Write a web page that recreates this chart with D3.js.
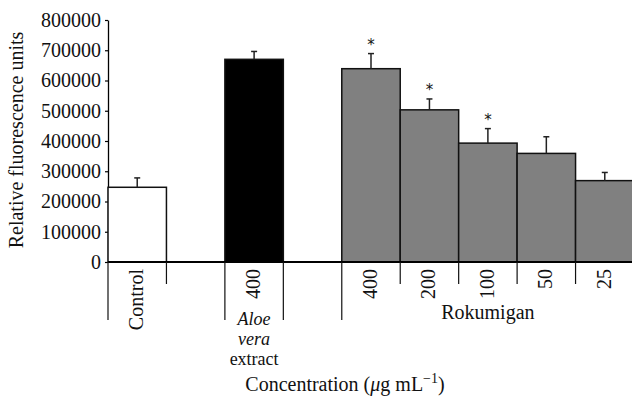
<!DOCTYPE html>
<html>
<head>
<meta charset="utf-8">
<script src="https://cdn.jsdelivr.net/npm/d3@7"></script>
<style>
  body { margin: 0; background: #fff; }
  svg text { font-family: "Liberation Serif", "DejaVu Serif", serif; fill: #111; }
</style>
</head>
<body>
<svg width="632" height="400"></svg>
<script>
// slots along the x axis (two empty gaps between groups)
const slots = ["control", "gap1", "aloe400", "gap2", "rk400", "rk200", "rk100", "rk50", "rk25"];
const tickLabels = ["Control", "", "400", "", "400", "200", "100", "50", "25"];
const groups = ["control", "", "aloe", "", "rokumigan", "rokumigan", "rokumigan", "rokumigan", "rokumigan"];
const values = [247000, null, 670000, null, 639000, 503000, 393000, 359000, 269000];
const errors = [31000, null, 26000, null, 50000, 36000, 48000, 55000, 27000];
const significant = [false, false, false, false, true, true, true, false, false];
const yTicks = [0, 100000, 200000, 300000, 400000, 500000, 600000, 700000, 800000];

const fills = { control: "#ffffff", aloe: "#000000", rokumigan: "#808080" };
const fontSize = "20px";

let margin = { top: 20, left: 108 };
let svg = d3.select("svg");

let x = d3.scaleBand()
    .domain(slots)
    .range([margin.left, 634])
    .padding(0);

let y = d3.scaleLinear()
    .domain([0, 800000])
    .range([262, margin.top]);

// y axis
let yAxis = svg.append("g")
    .attr("transform", `translate(${margin.left}, 0)`)
    .call(d3.axisLeft(y).tickValues(yTicks).tickFormat(d3.format("d")).tickSize(3).tickSizeOuter(0));
yAxis.attr("font-family", "Liberation Serif");
yAxis.select(".domain").attr("stroke", "#000").attr("stroke-width", 1.3);
yAxis.selectAll(".tick line").attr("stroke", "#000").attr("stroke-width", 1.2);
yAxis.selectAll(".tick text")
    .attr("x", -7)
    .style("font-family", "Liberation Serif")
    .style("font-size", fontSize)
    .attr("fill", "#111");

svg.append("text")
    .attr("transform", `translate(23, 140) rotate(-90)`)
    .attr("text-anchor", "middle")
    .style("font-size", fontSize)
    .text("Relative fluorescence units");

// bars
let data = slots.map((s, i) => ({ slot: s, value: values[i], err: errors[i], group: groups[i], star: significant[i] }))
    .filter(d => d.value !== null);

svg.selectAll("rect.bar")
    .data(data)
    .enter().append("rect")
    .attr("class", "bar")
    .attr("x", d => x(d.slot))
    .attr("y", d => y(d.value))
    .attr("width", x.bandwidth())
    .attr("height", d => y(0) - y(d.value))
    .attr("fill", d => fills[d.group])
    .attr("stroke", "#111")
    .attr("stroke-width", 1.5);

// error bars
let cx = d => x(d.slot) + x.bandwidth() / 2;
svg.selectAll("line.err")
    .data(data)
    .enter().append("line")
    .attr("x1", cx).attr("x2", cx)
    .attr("y1", d => y(d.value))
    .attr("y2", d => y(d.value + d.err))
    .attr("stroke", "#222").attr("stroke-width", 1.5);
svg.selectAll("line.cap")
    .data(data)
    .enter().append("line")
    .attr("x1", d => cx(d) - 3).attr("x2", d => cx(d) + 3)
    .attr("y1", d => y(d.value + d.err))
    .attr("y2", d => y(d.value + d.err))
    .attr("stroke", "#222").attr("stroke-width", 1.5);

svg.selectAll("text.star")
    .data(data.filter(d => d.star))
    .enter().append("text")
    .attr("x", cx)
    .attr("y", d => y(d.value + d.err) - 4)
    .attr("text-anchor", "middle")
    .style("font-family", "DejaVu Sans")
    .style("font-size", "15px")
    .text("*");

// x axis line
svg.append("line")
    .attr("x1", margin.left).attr("x2", 632)
    .attr("y1", y(0)).attr("y2", y(0))
    .attr("stroke", "#000").attr("stroke-width", 2);

// dividers below the axis: long ones bound the groups
const longDivider = [true, false, true, true, true, false, false, false, false];
svg.selectAll("line.div")
    .data(slots)
    .enter().append("line")
    .attr("x1", d => x(d)).attr("x2", d => x(d))
    .attr("y1", y(0))
    .attr("y2", (d, i) => longDivider[i] ? 320 : 284)
    .attr("stroke", "#111").attr("stroke-width", 1.2);

// rotated category labels
svg.selectAll("text.cat")
    .data(slots)
    .enter().append("text")
    .attr("transform", d => `translate(${x(d) + x.bandwidth() / 2 + 6}, 269) rotate(-90)`)
    .attr("text-anchor", "end")
    .style("font-size", fontSize)
    .text((d, i) => tickLabels[i]);

// group labels
let aloeX = x("aloe400") + x.bandwidth() / 2;
let aloeLines = [["Aloe", "italic", 325], ["vera", "italic", 345], ["extract", "normal", 365]];
svg.selectAll("text.aloe")
    .data(aloeLines)
    .enter().append("text")
    .attr("x", aloeX)
    .attr("y", d => d[2])
    .attr("text-anchor", "middle")
    .style("font-size", "18px")
    .style("font-style", d => d[1])
    .text(d => d[0]);

svg.append("text")
    .attr("x", x("rk100") + x.bandwidth() / 2)
    .attr("y", 319)
    .attr("text-anchor", "middle")
    .style("font-size", fontSize)
    .text("Rokumigan");

// x axis title
let title = svg.append("text")
    .attr("x", 345)
    .attr("y", 391)
    .attr("text-anchor", "middle")
    .style("font-size", fontSize);
title.append("tspan").text("Concentration (");
title.append("tspan").style("font-style", "italic").text("μ");
title.append("tspan").text("g mL");
title.append("tspan").attr("dy", -8).style("font-size", "14px").text("−1");
title.append("tspan").attr("dy", 8).text(")");
</script>
</body>
</html>
